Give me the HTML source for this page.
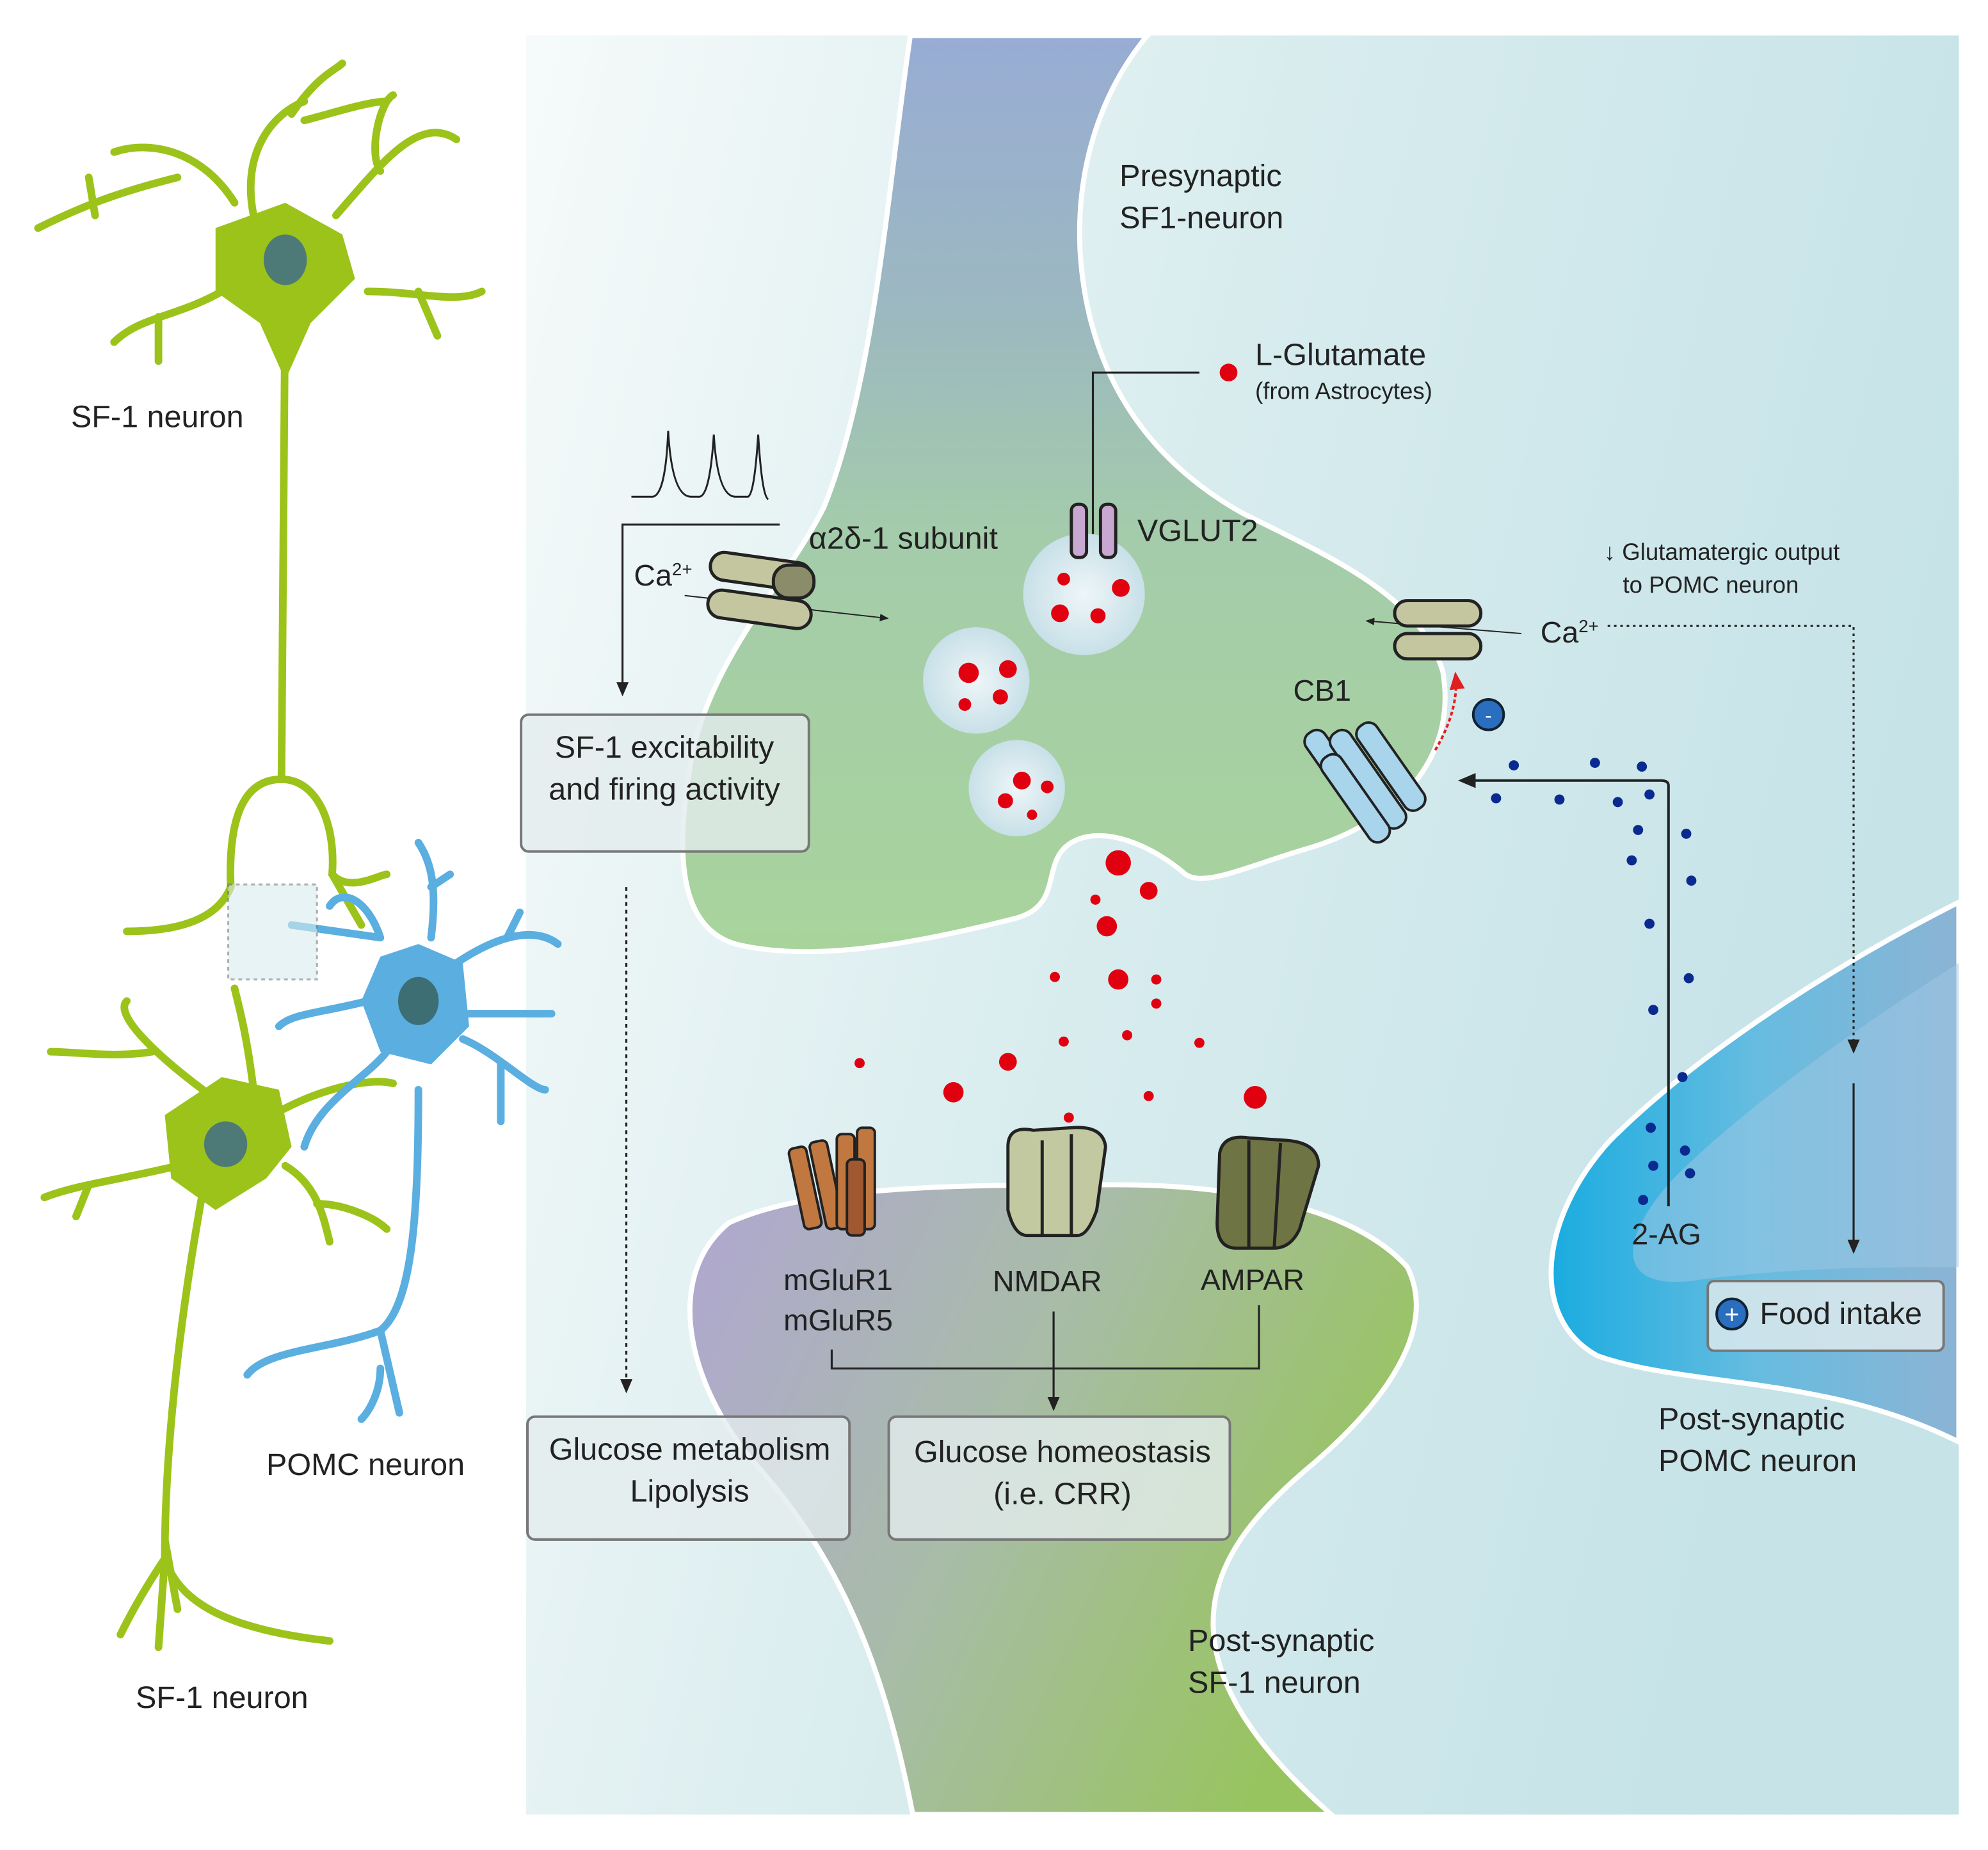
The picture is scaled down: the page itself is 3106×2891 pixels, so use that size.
<!DOCTYPE html>
<html><head><meta charset="utf-8"><style>
html,body{margin:0;padding:0;background:#fff}
svg{display:block}
text{font-family:"Liberation Sans","DejaVu Sans",sans-serif;fill:#222}
</style></head><body>
<svg width="3106" height="2891" viewBox="0 0 1568 1460" preserveAspectRatio="none" xmlns="http://www.w3.org/2000/svg">
<defs>
<linearGradient id="bg" x1="0" y1="0" x2="1" y2="0.3"><stop offset="0" stop-color="#f6fafa"/><stop offset="0.5" stop-color="#d8ecee"/><stop offset="1" stop-color="#c6e3e8"/></linearGradient>
<linearGradient id="pre" x1="0" y1="0" x2="0" y2="1"><stop offset="0" stop-color="#98acd4"/><stop offset="0.3" stop-color="#9cb8c0"/><stop offset="0.55" stop-color="#a4ccaa"/><stop offset="1" stop-color="#a8d49c"/></linearGradient>
<linearGradient id="post" x1="0" y1="0" x2="1" y2="0.4"><stop offset="0" stop-color="#b0a6d2"/><stop offset="0.5" stop-color="#a8bca8"/><stop offset="1" stop-color="#98c460"/></linearGradient>
<linearGradient id="pomc" x1="0" y1="0" x2="1" y2="0"><stop offset="0" stop-color="#1aace0"/><stop offset="0.5" stop-color="#66bce0"/><stop offset="1" stop-color="#8cb4d4"/></linearGradient>
<radialGradient id="ves"><stop offset="0" stop-color="#eef6f8"/><stop offset="1" stop-color="#c8e0e8"/></radialGradient>
<marker id="ah" markerWidth="8" markerHeight="8" refX="6" refY="4" orient="auto"><path d="M0,1 L7,4 L0,7 Z" fill="#222"/></marker>
<marker id="ahr" markerWidth="8" markerHeight="8" refX="6" refY="4" orient="auto"><path d="M0,1 L7,4 L0,7 Z" fill="#e02020"/></marker>
</defs>
<rect x="415" y="28" width="1130" height="1404" fill="url(#bg)"/>
<path d="M718,28 L905,28 C870,70 848,130 852,200 C858,290 900,360 980,405 C1050,440 1120,470 1138,530 C1150,600 1100,650 1030,670 C980,685 950,700 935,690 C910,668 870,650 845,665 C820,680 840,715 800,725 C720,745 640,760 580,745 C530,730 535,660 545,600 C560,520 620,460 650,400 C690,300 700,150 718,28 Z" fill="url(#pre)" stroke="#fff" stroke-width="4"/>
<path d="M720,1432 C700,1330 670,1240 600,1160 C545,1100 520,1010 575,965 C640,935 760,935 880,935 C980,935 1070,955 1110,1000 C1135,1050 1090,1110 1030,1160 C960,1220 900,1300 1050,1432 Z" fill="url(#post)" stroke="#fff" stroke-width="4"/>
<path d="M1545,712 C1450,760 1340,830 1270,900 C1215,960 1205,1040 1260,1070 C1330,1095 1440,1085 1545,1138 Z" fill="url(#pomc)" stroke="#fff" stroke-width="4"/>
<path d="M1545,760 C1450,820 1370,880 1320,930 C1270,985 1280,1020 1340,1010 C1420,1000 1480,1000 1545,1000 Z" fill="#a0c8e4" opacity="0.5"/>
<g fill="none" stroke="#9cc31a" stroke-width="6" stroke-linecap="round">
<path d="M225,230 L222,615"/>
<path d="M222,615 C190,615 180,650 182,700 C170,730 130,735 100,735"/>
<path d="M222,615 C250,615 265,650 262,690 C275,705 300,690 305,690 M262,690 L285,730"/>
<path d="M185,160 C160,120 120,110 90,120 M140,140 C100,150 70,160 30,180 M70,140 L75,170 M175,230 C140,250 110,250 90,270 M125,250 L125,285 M200,170 C190,120 215,90 240,80 M230,90 C250,60 265,55 270,50 M265,170 C300,130 330,90 360,110 M300,135 C290,120 300,80 310,75 M290,230 C330,230 360,240 380,230 M330,230 L345,265 M240,95 C260,90 290,80 305,80"/>
<path d="M160,860 C120,830 90,800 100,790 M120,830 C90,835 60,830 40,830 M140,920 C100,930 60,935 35,945 M70,935 L60,960 M200,860 C195,820 190,800 185,780 M215,880 C250,860 290,850 310,855 M225,920 C250,935 255,960 260,980 M250,950 C270,950 295,960 305,970"/>
<path d="M160,940 C140,1050 130,1150 130,1230 M130,1230 C110,1260 100,1280 95,1290 M130,1230 C140,1260 170,1285 260,1295 M130,1230 L125,1300 M140,1270 L130,1215"/>
</g>
<path d="M225,160 L270,185 L280,220 L245,255 L225,300 L205,255 L170,230 L170,180 Z" fill="#9cc31a"/>
<ellipse cx="225" cy="205" rx="17" ry="20" fill="#4d7a76"/>
<path d="M175,850 L220,860 L230,905 L210,930 L170,955 L135,930 L130,880 Z" fill="#9cc31a"/>
<ellipse cx="178" cy="903" rx="17" ry="18" fill="#4d7a76"/>
<g fill="none" stroke="#5aaee0" stroke-width="6" stroke-linecap="round">
<path d="M330,860 C330,960 325,1030 300,1050 C260,1065 210,1065 195,1085 M300,1050 L315,1115 M300,1080 C300,1100 290,1115 285,1120"/>
<path d="M300,740 C290,710 270,700 260,715 M300,740 L230,730 M290,790 C250,800 230,800 220,810 M305,830 C290,850 250,870 240,905 M340,740 C345,700 340,680 330,665 M340,700 L355,690 M360,760 C390,740 420,730 440,745 M400,740 L410,720 M365,820 C390,830 420,860 430,860 M395,840 L395,885 M370,800 C400,800 420,800 435,800"/>
</g>
<path d="M330,745 L365,760 L370,810 L340,840 L300,830 L285,790 L300,755 Z" fill="#5aaee0"/>
<ellipse cx="330" cy="790" rx="16" ry="19" fill="#3d6e74"/>
<rect x="180" y="698" width="70" height="75" fill="#d8ecee" opacity="0.6" stroke="#777" stroke-width="1.5" stroke-dasharray="3,3"/>
<text x="56" y="337" font-size="24.5">SF-1 neuron</text>
<text x="210" y="1164" font-size="24.5">POMC neuron</text>
<text x="107" y="1348" font-size="24.5">SF-1 neuron</text>
<text x="883" y="147" font-size="24.5">Presynaptic</text>
<text x="883" y="180" font-size="24.5">SF1-neuron</text>
<text x="990" y="288" font-size="24.5">L-Glutamate</text>
<text x="990" y="315" font-size="18.5">(from Astrocytes)</text>
<circle cx="969" cy="294" r="7" fill="#e00010"/>
<text x="897" y="427" font-size="24.5">VGLUT2</text>
<text x="638" y="433" font-size="24.5">α2δ-1 subunit</text>
<text x="500" y="462" font-size="23.5">Ca<tspan font-size="14" dy="-8">2+</tspan></text>
<text x="1215" y="507" font-size="23.5">Ca<tspan font-size="14" dy="-8">2+</tspan></text>
<text x="1020" y="553" font-size="23.5">CB1</text>
<text x="1265" y="442" font-size="18.5">↓ Glutamatergic output</text>
<text x="1280" y="468" font-size="18.5">to POMC neuron</text>
<text x="1287" y="982" font-size="23.5">2-AG</text>
<text x="618" y="1018" font-size="23.5">mGluR1</text>
<text x="618" y="1050" font-size="23.5">mGluR5</text>
<text x="783" y="1019" font-size="23.5">NMDAR</text>
<text x="947" y="1018" font-size="23.5">AMPAR</text>
<text x="1308" y="1128" font-size="24.5">Post-synaptic</text>
<text x="1308" y="1161" font-size="24.5">POMC neuron</text>
<text x="937" y="1303" font-size="24.5">Post-synaptic</text>
<text x="937" y="1336" font-size="24.5">SF-1 neuron</text>
<path d="M498,392 L515,392 Q525,390 527,340 Q530,392 545,392 L552,392 Q560,390 563,343 Q566,392 580,392 L590,392 Q595,390 598,343 Q601,392 606,394" fill="none" stroke="#222" stroke-width="1.5"/>
<g stroke="#777" stroke-width="2" fill="#e4ecee" fill-opacity="0.8">
<rect x="411" y="564" width="227" height="108" rx="6"/>
<rect x="416" y="1118" width="254" height="97" rx="6"/>
<rect x="701" y="1118" width="269" height="97" rx="6"/>
<rect x="1347" y="1011" width="186" height="55" rx="5"/>
</g>
<text x="524" y="598" font-size="24.5" text-anchor="middle">SF-1 excitability</text>
<text x="524" y="631" font-size="24.5" text-anchor="middle">and firing activity</text>
<text x="544" y="1152" font-size="24.5" text-anchor="middle">Glucose metabolism</text>
<text x="544" y="1185" font-size="24.5" text-anchor="middle">Lipolysis</text>
<text x="838" y="1154" font-size="24.5" text-anchor="middle">Glucose homeostasis</text>
<text x="838" y="1187" font-size="24.5" text-anchor="middle">(i.e. CRR)</text>
<circle cx="1366" cy="1037" r="12" fill="#2a6ec0" stroke="#123" stroke-width="2"/>
<text x="1366" y="1044" font-size="20" text-anchor="middle" style="fill:#fff">+</text>
<text x="1388" y="1045" font-size="24.5">Food intake</text>
<g fill="none" stroke="#222" stroke-width="1.6">
<path d="M615,414 L491,414 L491,548" marker-end="url(#ah)"/>
<path d="M946,294 L862,294 L862,470" marker-end="url(#ah)"/>
<path d="M494,700 L494,1098" stroke-dasharray="3,3" marker-end="url(#ah)"/>
<path d="M656,1065 L656,1080 L993,1080 L993,1030 M831,1035 L831,1112" marker-end="url(#ah)"/>
<path d="M1268,494 L1462,494 L1462,830" stroke-dasharray="2,3" marker-end="url(#ah)"/>
<path d="M1462,855 L1462,988" marker-end="url(#ah)"/>
<path d="M1316,952 L1316,620 Q1316,616 1310,616 L1152,616" stroke-width="2" marker-end="url(#ah)"/>
<path d="M540,470 L700,488" stroke-width="1" marker-end="url(#ah)"/>
<path d="M1200,500 L1078,490" stroke-width="1" marker-end="url(#ah)"/>
</g>
<path d="M1132,592 C1145,570 1150,550 1148,532" fill="none" stroke="#e02020" stroke-width="2" stroke-dasharray="3,2" marker-end="url(#ahr)"/>
<circle cx="1174" cy="564" r="12" fill="#2a6ec0" stroke="#123" stroke-width="2"/>
<text x="1174" y="570" font-size="16" text-anchor="middle" style="fill:#fff">-</text>
<g fill="url(#ves)">
<circle cx="855" cy="469" r="48"/><circle cx="770" cy="537" r="42"/><circle cx="802" cy="622" r="38"/>
</g>
<g fill="#e00010">
<circle cx="839" cy="457" r="5"/><circle cx="884" cy="464" r="7"/><circle cx="836" cy="484" r="7"/><circle cx="866" cy="486" r="6"/>
<circle cx="764" cy="531" r="8"/><circle cx="795" cy="528" r="7"/><circle cx="789" cy="550" r="6"/><circle cx="761" cy="556" r="5"/>
<circle cx="806" cy="616" r="7"/><circle cx="826" cy="621" r="5"/><circle cx="793" cy="632" r="6"/><circle cx="814" cy="643" r="4"/>
<circle cx="882" cy="681" r="10"/><circle cx="906" cy="703" r="7"/><circle cx="864" cy="710" r="4"/><circle cx="873" cy="731" r="8"/>
<circle cx="832" cy="771" r="4"/><circle cx="882" cy="773" r="8"/><circle cx="912" cy="773" r="4"/><circle cx="912" cy="792" r="4"/>
<circle cx="839" cy="822" r="4"/><circle cx="889" cy="817" r="4"/><circle cx="946" cy="823" r="4"/><circle cx="678" cy="839" r="4"/>
<circle cx="795" cy="838" r="7"/><circle cx="752" cy="862" r="8"/><circle cx="906" cy="865" r="4"/><circle cx="990" cy="866" r="9"/><circle cx="843" cy="882" r="4"/>
</g>
<g fill="#0a2a90">
<circle cx="1194" cy="604" r="4"/><circle cx="1258" cy="602" r="4"/><circle cx="1295" cy="605" r="4"/><circle cx="1180" cy="630" r="4"/><circle cx="1230" cy="631" r="4"/><circle cx="1276" cy="633" r="4"/><circle cx="1301" cy="627" r="4"/>
<circle cx="1292" cy="655" r="4"/><circle cx="1330" cy="658" r="4"/><circle cx="1287" cy="679" r="4"/><circle cx="1334" cy="695" r="4"/><circle cx="1301" cy="729" r="4"/><circle cx="1332" cy="772" r="4"/><circle cx="1304" cy="797" r="4"/><circle cx="1327" cy="850" r="4"/><circle cx="1302" cy="890" r="4"/><circle cx="1329" cy="908" r="4"/><circle cx="1304" cy="920" r="4"/><circle cx="1333" cy="926" r="4"/><circle cx="1296" cy="947" r="4"/>
</g>
<g stroke="#222" stroke-width="2.5">
<rect x="560" y="440" width="80" height="22" rx="11" fill="#c4c6a0" transform="rotate(8 600 451)"/>
<rect x="558" y="470" width="82" height="22" rx="11" fill="#c4c6a0" transform="rotate(8 600 481)"/>
<rect x="610" y="446" width="32" height="26" rx="12" fill="#8a8c6a"/>
<rect x="1100" y="474" width="68" height="20" rx="10" fill="#c4c6a0"/>
<rect x="1100" y="500" width="68" height="20" rx="10" fill="#c4c6a0"/>
<rect x="845" y="398" width="12" height="42" rx="5" fill="#c8a8d0"/>
<rect x="868" y="398" width="12" height="42" rx="5" fill="#c8a8d0"/>
<g fill="#a8d4ec" stroke-width="2">
<rect x="1050" y="570" width="18" height="90" rx="8" transform="rotate(-35 1059 615)"/>
<rect x="1070" y="570" width="18" height="90" rx="8" transform="rotate(-35 1079 615)"/>
<rect x="1088" y="565" width="18" height="80" rx="8" transform="rotate(-35 1097 605)"/>
<rect x="1060" y="590" width="18" height="80" rx="8" transform="rotate(-35 1069 630)"/>
</g>
<g fill="#c07840" stroke-width="2">
<rect x="628" y="905" width="14" height="65" rx="4" transform="rotate(-12 635 937)"/>
<rect x="645" y="900" width="14" height="70" rx="4" transform="rotate(-12 652 935)"/>
<rect x="660" y="895" width="14" height="75" rx="4"/>
<rect x="676" y="890" width="14" height="80" rx="4"/>
<rect x="668" y="915" width="14" height="60" rx="4" fill="#a05830"/>
</g>
<path d="M795,905 Q795,888 815,892 L845,890 Q870,888 872,905 L865,955 Q858,975 850,975 L810,975 Q800,975 795,955 Z" fill="#c2c8a0"/>
<path d="M822,900 L822,975 M845,895 L845,975" fill="none"/>
<path d="M962,910 Q965,895 985,898 L1015,900 Q1040,902 1040,920 L1025,970 Q1018,985 1005,985 L975,985 Q960,985 960,965 Z" fill="#6e7444"/>
<path d="M985,900 L985,985 M1010,902 L1005,985" fill="none"/>
</g>
</svg>
</body></html>
